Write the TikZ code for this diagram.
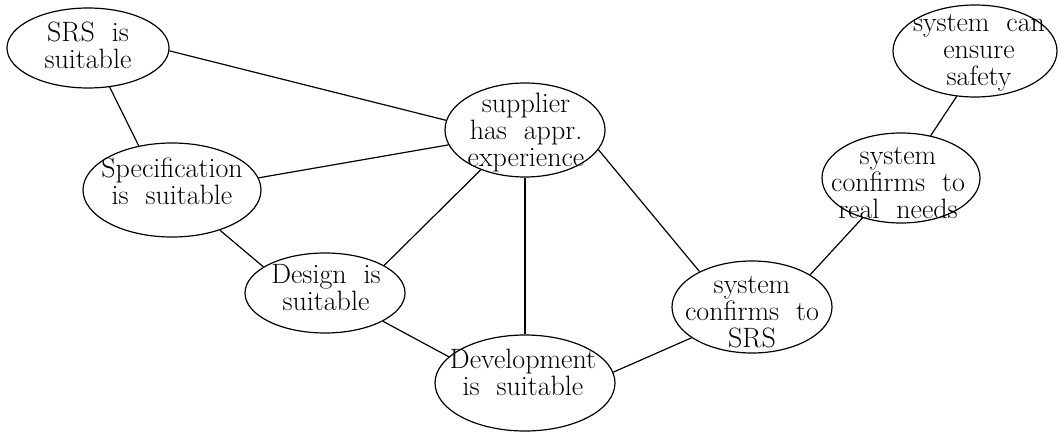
\documentclass[tikz,border=0pt]{standalone}
\usetikzlibrary{shapes.geometric}

\tikzset{
  bubble/.style={draw, ellipse, line width=1.2pt, inner sep=0pt},
  txt/.style={align=center, inner sep=0pt, font=\fontsize{28}{27}\selectfont},
  link/.style={line width=1.2pt},
}

\begin{document}
\begin{tikzpicture}[x=1pt,y=-1pt]
  \useasboundingbox (0,0) rectangle (1060,433);

  % ellipses (fixed sizes)
  \node[bubble, minimum width=162, minimum height=80] (srs)  at (88,48)  {};
  \node[bubble, minimum width=178, minimum height=94] (spec) at (172,190) {};
  \node[bubble, minimum width=160, minimum height=94] (sup)  at (525,130) {};
  \node[bubble, minimum width=160, minimum height=80] (des)  at (325,293) {};
  \node[bubble, minimum width=180, minimum height=96] (dev)  at (525,383) {};
  \node[bubble, minimum width=160, minimum height=92] (conf) at (752,307) {};
  \node[bubble, minimum width=158, minimum height=90] (real) at (901,178) {};
  \node[bubble, minimum width=164, minimum height=92] (safe) at (975,51)  {};

  % labels
  \node[txt] (srs-t)  at (88,45)   {SRS\ \ is\\suitable};
  \node[txt] (spec-t) at (172,181) {Specification\\is\ \ suitable};
  \node[txt] (sup-t)  at (526,133) {supplier\\has\ \ appr.\\experience};
  \node[txt] (des-t)  at (326,288) {Design\ \ is\\suitable};
  \node[txt] (dev-t)  at (523,372) {Development\\is\ \ suitable};
  \node[txt] (conf-t) at (752,312) {system\\confirms\ \ to\\SRS};
  \node[txt] (real-t) at (898,183) {system\\confirms\ \ to\\real\ \ needs};
  \node[txt] (safe-t) at (979,53)  {system\ \ can\\ensure\\safety};

  % connections
  \draw[link] (srs.-2)   -- (sup.173);
  \draw[link] (srs.-61)  -- (spec.127);
  \draw[link] (spec.8)   -- (sup.-169);
  \draw[link] (spec.-40) -- (des.157);
  \draw[link] (des.25)   -- (sup.-138);
  \draw[link] (des.-26)  -- (dev.161);
  \draw[link] (sup.south) -- (dev.north);
  \draw[link] (sup.-15)  -- (conf.146);
  \draw[link] (dev.7)    -- (conf.-153);
  \draw[link] (conf.29)  -- (real.-134);
  \draw[link] (real.55)  -- (safe.-112);
\end{tikzpicture}
\end{document}
